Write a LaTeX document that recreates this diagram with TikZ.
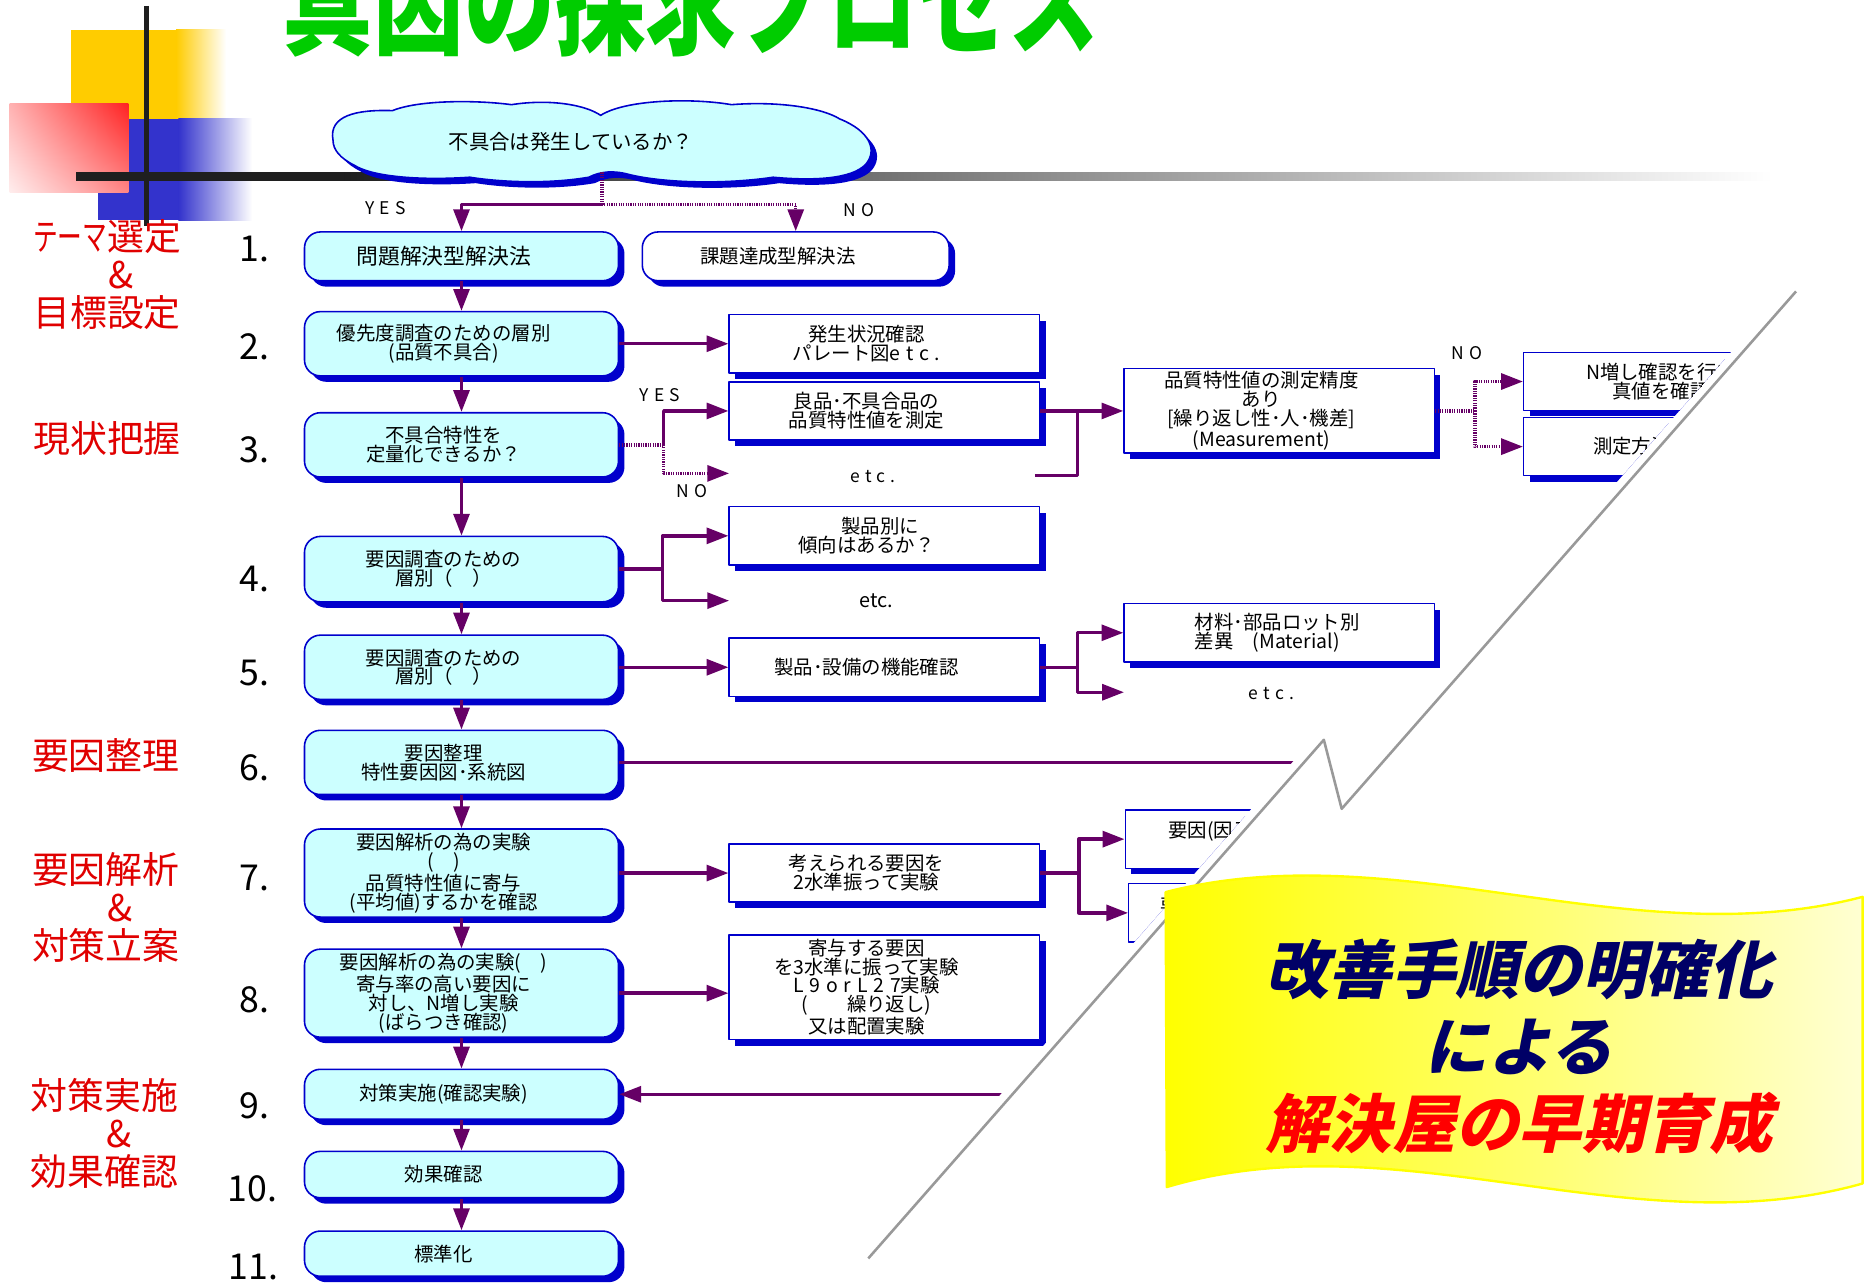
\documentclass[tikz,border=0pt]{standalone}
\usepackage{fontspec}
\setmainfont{Noto Sans CJK JP}
\newfontfamily\spacedfont[LetterSpace=30]{Noto Sans CJK JP}
\newfontfamily\bannerfont[FakeSlant=0.22]{Noto Sans CJK JP}
\usetikzlibrary{arrows.meta,positioning,calc,shadows,shadings}
\definecolor{boxblue}{HTML}{0000CC}
\definecolor{boxcyan}{HTML}{CCFFFF}
\definecolor{flowpurple}{HTML}{660066}
\definecolor{phasered}{HTML}{E00000}
\definecolor{titlegreen}{HTML}{00CC00}
\definecolor{bannernavy}{HTML}{000066}
\definecolor{bannerred}{HTML}{FF0000}
\definecolor{cutgray}{HTML}{999999}
\definecolor{decoyellow}{HTML}{FFCC00}
\definecolor{decoblue}{HTML}{3333CC}
\definecolor{decored}{HTML}{FF2222}
\definecolor{flagyellow}{HTML}{FFFF00}
\definecolor{flagpale}{HTML}{FFFFD2}
\newcommand{\spaced}[1]{{\spacedfont #1}}
\tikzset{
    every picture/.style={line join=round},
    boxshadow/.style={drop shadow={shadow xshift=3pt,shadow yshift=-3pt,
      fill=boxblue,opacity=1}},
    stepbox/.style={draw=boxblue,fill=boxcyan,line width=0.8pt,rounded corners=8pt,
      boxshadow,minimum width=158.4pt,inner sep=0pt},
    notebox/.style={draw=boxblue,fill=white,line width=0.7pt,boxshadow,
      minimum width=156.6pt,minimum height=29.4pt,inner sep=0pt},
    cloudshape/.style={draw=boxblue,fill=boxcyan,line width=0.8pt,boxshadow},
    boxtext/.style={xshift=-9pt,align=center,inner sep=0pt,
      font=\fontsize{9.8}{9.5}\selectfont},
    sidetext/.style={anchor=west,align=left,inner sep=0pt,
      font=\fontsize{9.8}{9.5}\selectfont},
    stepnum/.style={anchor=base,inner sep=0pt,font=\fontsize{18}{18}\selectfont},
    phaselabel/.style={align=center,text=phasered,inner sep=0pt,
      font=\fontsize{18.6}{19.2}\selectfont},
    flowarrow/.style={->,draw=flowpurple,line width=1.7pt},
    flowline/.style={draw=flowpurple,line width=1.7pt},
    dotline/.style={draw=flowpurple,line width=1.7pt,dash pattern=on 0.6pt off 0.6pt},
    edgelabel/.style={inner sep=0pt,font=\spacedfont\fontsize{8.8}{8.8}\selectfont},
    cutline/.style={draw=cutgray,line width=1.3pt},
    bannerflag/.style={draw=flagyellow,line width=1.2pt,left color=flagyellow,
      right color=flagpale},
    bannertext/.style={align=center,inner sep=0pt,
      font=\bannerfont\bfseries\fontsize{32}{39}\selectfont}
}

\begin{document}
\begin{tikzpicture}[x=0.6pt,y=-0.6pt,>={Triangle[length=11pt,width=8pt]}]
  \useasboundingbox (0,0) rectangle (1568,1082);

  % corner ornament
  \fill[decoyellow] (60,25) rectangle (148,100);
  \shade[left color=decoyellow,right color=white] (148,25) rectangle (190,100);
  \fill[decoblue] (82,100) rectangle (150,185);
  \shade[left color=decoblue,right color=white] (150,100) rectangle (212,185);
  \shade[upper left=decored!35,upper right=decored,lower left=decored!8,
    lower right=decored!55] (8,87) rectangle (108,162);
  \draw[line width=2.4pt,black!88] (123,5) -- (123,190);
  \fill[black!88] (64,145) rectangle (290,152);
  \shade[left color=black!88,right color=white] (290,145) rectangle (1490,152);

  \node[anchor=base,text=titlegreen,font=\bfseries\fontsize{61}{61}\selectfont]
    (title) at (581,38) {\scalebox{0.75}[1]{真因の探求プロセス}};

  % phase names and step numbers
  \node[phaselabel] (ph1) at (90,231)
    {\scalebox{0.67}[1]{テーマ}選定\\\hspace*{14pt}\&\\目標設定};
  \node[phaselabel] (ph2) at (90,369) {現状把握};
  \node[phaselabel] (ph3) at (89,635) {要因整理};
  \node[phaselabel] (ph4) at (89,763) {要因解析\\\hspace*{14pt}\&\\対策立案};
  \node[phaselabel] (ph5) at (88,953) {対策実施\\\hspace*{14pt}\&\\効果確認};

  \node[stepnum] (num1) at (214,220) {1.};
  \node[stepnum] (num2) at (214,302) {2.};
  \node[stepnum] (num3) at (214,389) {3.};
  \node[stepnum] (num4) at (214,497) {4.};
  \node[stepnum] (num5) at (214,576) {5.};
  \node[stepnum] (num6) at (214,656) {6.};
  \node[stepnum] (num7) at (214,749) {7.};
  \node[stepnum] (num8) at (214,851) {8.};
  \node[stepnum] (num9) at (214,940) {9.};
  \node[stepnum] (num10) at (212,1010) {10.};
  \node[stepnum] (num11) at (213,1076) {11.};

  \begin{scope}
    \clip (0,0) -- (1568,0) -- (1568,245) -- (1500,245) -- (1118,680)
      -- (1103,622) -- (720,1058) -- (699,1082) -- (0,1082) -- cycle;

    % start question (cloud)
    \path[cloudshape] (280,118) .. controls (276,97) and (300,92) .. (330,93)
      .. controls (352,84) and (400,84) .. (430,88)
      .. controls (462,83) and (492,88) .. (505,97)
      .. controls (525,84) and (580,82) .. (615,88)
      .. controls (652,85) and (690,90) .. (706,100)
      .. controls (731,110) and (738,126) .. (728,138)
      .. controls (716,151) and (682,152) .. (650,149)
      .. controls (610,155) and (560,154) .. (530,147)
      .. controls (516,143) and (505,144) .. (495,149)
      .. controls (460,155) and (420,153) .. (395,149)
      .. controls (350,152) and (312,148) .. (298,139)
      .. controls (286,133) and (280,126) .. (280,118) -- cycle;
    \coordinate (q0foot) at (506,145);
    \node[font=\fontsize{10.3}{10.3}\selectfont] (q0) at (480,119)
      {不具合は発生しているか？};

    % main steps
    \node[stepbox,minimum height=24.6pt,
      label={[boxtext,font=\fontsize{11}{11}\selectfont]center:問題解決型解決法}]
      (s1) at (388,215.5) {};
    \node[stepbox,minimum height=32.4pt,
      label={[boxtext]center:{優先度調査のための層別\\(品質不具合)}}] (s2) at (388,289) {};
    \node[stepbox,minimum height=32.4pt,
      label={[boxtext]center:{不具合特性を\\定量化できるか？}}] (s3) at (388,374) {};
    \node[stepbox,minimum height=33pt,
      label={[boxtext]center:{要因調査のための\\層別（　）}}] (s4) at (388,478.5) {};
    \node[stepbox,minimum height=32.4pt,
      label={[boxtext]center:{要因調査のための\\層別（　）}}] (s5) at (388,561) {};
    \node[stepbox,minimum height=32.4pt,
      label={[boxtext]center:{要因整理\\特性要因図･系統図}}] (s6) at (388,641) {};
    \node[stepbox,minimum height=44.4pt,
      label={[boxtext]center:{要因解析の為の実験\\(　)\\品質特性値に寄与\\(平均値)するかを確認}}]
      (s7) at (388,734) {};
    \node[stepbox,minimum height=44.4pt,
      label={[boxtext]center:{要因解析の為の実験(　)\\寄与率の高い要因に\\対し、N増し実験\\(ばらつき確認)}}]
      (s8) at (388,835) {};
    \node[stepbox,minimum height=25.2pt,
      label={[boxtext]center:対策実施(確認実験)}] (s9) at (388,920) {};
    \node[stepbox,minimum height=23.4pt,
      label={[boxtext]center:効果確認}] (s10) at (388,987.5) {};
    \node[stepbox,minimum height=22.8pt,
      label={[boxtext]center:標準化}] (s11) at (388,1054) {};

    % side branches
    \node[stepbox,fill=white,minimum width=154.8pt,minimum height=24.6pt,
      label={[boxtext]center:課題達成型解決法}] (k1) at (669,215.5) {};
    \node[notebox,label={[boxtext]center:{発生状況確認\\パレート図\spaced{etc.}}}]
      (r2) at (743.5,289) {};
    \node[notebox,label={[boxtext]center:{良品･不具合品の\\品質特性値を測定}}]
      (r3) at (743.5,345.5) {};
    \node[notebox,label={[boxtext]center:{\hspace*{14pt}製品別に\\傾向はあるか？}}]
      (r4) at (743.5,450.5) {};
    \node[notebox,label={[boxtext]center:製品･設備の機能確認}] (r5) at (743.5,561) {};
    \node[notebox,label={[boxtext]center:{考えられる要因を\\2水準振って実験}}]
      (r7) at (743.5,734) {};
    \node[notebox,minimum height=52.8pt,
      label={[boxtext]center:{寄与する要因\\を3水準に振って実験\\\spaced{L9orL27}実験\\(\hspace{2em}繰り返し)\\又は配置実験}}]
      (r8) at (743.5,830) {};
    \node[notebox,minimum height=42.6pt,
      label={[boxtext]center:{品質特性値の測定精度\\あり\\{}[繰り返し性･人･機差]\\(Measurement)}}]
      (m3) at (1075.5,345.5) {};
    \node[notebox] (m5) at (1075.5,532) {};
    \node[sidetext] (m5t) at (1004,532) {材料･部品ロット別\\差異　(Material)};
    \node[notebox] (m7a) at (1076.5,705.5) {};
    \node[sidetext] (m7at) at (982,699) {要因(因子)};
    \node[notebox] (m7b) at (1079.5,767.5) {};
    \node[sidetext] (m7bt) at (975,762) {要因};
    \node[notebox,minimum height=29.1pt,
      label={[boxtext]center:{N増し確認を行い\\真値を確認}}] (n3a) at (1411.5,320.75) {};
    \node[notebox,label={[boxtext]center:測定方法の改善}] (n3b) at (1411.5,375.5) {};

    \node[edgelabel] (yes1) at (324,175) {YES};
    \node[edgelabel] (no1) at (722,177) {NO};
    \node[edgelabel] (yes3) at (555,332) {YES};
    \node[edgelabel] (no3) at (582,413) {NO};
    \node[edgelabel] (no4) at (1233,297) {NO};
    \node[edgelabel] (etc3) at (734,401) {etc.};
    \node[font=\fontsize{10}{10}\selectfont] (etc4) at (737,505) {etc.};
    \node[edgelabel] (etc5) at (1069,583) {etc.};

    % connectors
    \coordinate (fork) at (506,172);
    \draw[dotline] (q0foot) -- (fork);
    \draw[flowarrow] (fork) -| (s1.north);
    \draw[dotline,->] (fork) -| (k1.north);

    \draw[flowarrow] (s1) -- (s2);
    \draw[flowarrow] (s2) -- (s3);
    \draw[flowarrow] (s3) -- (s4);
    \draw[flowarrow] (s4) -- (s5);
    \draw[flowarrow] (s5) -- (s6);
    \draw[flowarrow] (s6) -- (s7);
    \draw[flowarrow] (s7) -- (s8);
    \draw[flowarrow] (s8) -- (s9);
    \draw[flowarrow] (s9) -- (s10);
    \draw[flowarrow] (s10) -- (s11);

    \draw[flowarrow] (s2.east) -- (s2.east -| r2.west);

    \coordinate (q3) at (558,374);
    \coordinate (etc3in) at (613,398);
    \draw[dotline] (s3.east) -- (q3);
    \draw[flowarrow] (q3) |- (r3.west);
    \draw[dotline,->] (q3) |- (etc3in);

    \coordinate (j3) at (906,345.5);
    \coordinate (etc3out) at (870,400);
    \draw[flowarrow] (r3.east) -- (m3.west);
    \draw[flowline] (etc3out) -| (j3);

    \coordinate (q4) at (1240,345.5);
    \draw[dotline] (m3.east) -- (q4);
    \draw[dotline,->] (q4) |- (n3a.west);
    \draw[dotline,->] (q4) |- (n3b.west);

    \coordinate (j4) at (557,478.5);
    \coordinate (etc4in) at (613,505);
    \draw[flowline] (s4.east) -- (j4);
    \draw[flowarrow] (j4) |- (r4.west);
    \draw[flowarrow] (j4) |- (etc4in);

    \draw[flowarrow] (s5.east) -- (r5.west);
    \coordinate (j5) at (906,561);
    \coordinate (etc5in) at (945,582);
    \draw[flowline] (r5.east) -- (j5);
    \draw[flowarrow] (j5) |- (m5.west);
    \draw[flowarrow] (j5) |- (etc5in);

    \coordinate (cut6) at (1100,641);
    \draw[flowline] (s6.east) -- (cut6);

    \draw[flowarrow] (s7.east) -- (r7.west);
    \coordinate (j7) at (907,734);
    \draw[flowline] (r7.east) -- (j7);
    \draw[flowarrow] (j7) |- (m7a.west);
    \draw[flowarrow] (j7) |- (m7b.west);

    \draw[flowarrow] (s8.east) -- (s8.east -| r8.west);

    \coordinate (ret9) at (860,920);
    \draw[flowarrow] (ret9) -- (s9.east);
  \end{scope}

  % torn edge
  \draw[cutline] (1510,245) -- (1128,680) -- (1113,622) -- (730,1058);

  % slogan flag
  \path[bannerflag] (980,750) .. controls (1175,700) and (1371,805) .. (1566,754)
    -- (1566,995) .. controls (1371,1050) and (1176,940) .. (981,998) -- cycle;
  \node[bannertext] (slogan) at (1277,880)
    {\textcolor{bannernavy}{改善手順の明確化}\\\textcolor{bannernavy}{による}\\
     \textcolor{bannerred}{解決屋の早期育成}};
\end{tikzpicture}
\end{document}
